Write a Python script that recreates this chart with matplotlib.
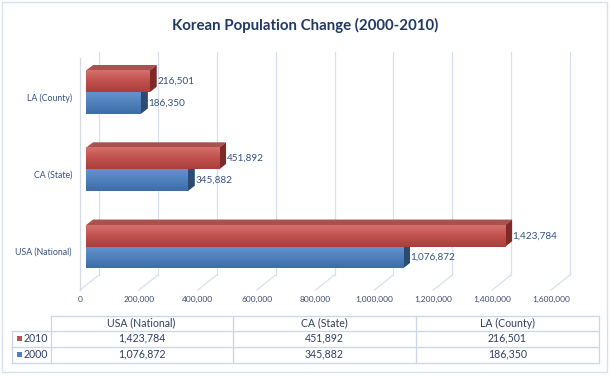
import numpy as np
import matplotlib.pyplot as plt
from matplotlib.colors import LinearSegmentedColormap
from matplotlib.patches import Polygon, Rectangle

# data
categories = ['USA (National)', 'CA (State)', 'LA (County)']
pop_2010 = [1423784, 451892, 216501]
pop_2000 = [1076872, 345882, 186350]
series_names = ['2010', '2000']
x_ticks = [0, 200000, 400000, 600000, 800000, 1000000, 1200000, 1400000, 1600000]

plt.rcParams['font.family'] = ['Lato', 'DejaVu Sans']

W, H = 610, 376
fig = plt.figure(figsize=(6.1, 3.76), dpi=100)


def fx(px):
    return px / W


def fy(py):
    return 1 - py / H


ax = fig.add_axes([fx(80), fy(290), fx(551) - fx(80), fy(52) - fy(290)])
xmax = x_ticks[-1]
ymin, ymax = -0.5, 2.58
sx = xmax / 471.0
sy = (ymax - ymin) / 238.0

floor_dx, floor_dy = 19, 15
off_dx, off_dy = 6, 4.6
dep_dx, dep_dy = 7, 5.5
bar_h = 21.7 * sy

text_c = '#34507f'
grid_c = '#d5e1f1'

# walls / gridlines
for t in x_ticks:
    ax.plot([t, t + floor_dx * sx], [ymin, ymin + floor_dy * sy], color=grid_c, lw=0.9, clip_on=False, zorder=0)
    ax.plot([t + floor_dx * sx] * 2, [ymin + floor_dy * sy, ymax], color=grid_c, lw=0.9, clip_on=False, zorder=0)
ax.plot([0, 0], [ymin, ymin + 232 * sy], color='#d3dae6', lw=0.9, clip_on=False, zorder=0)

grad = np.linspace(0, 1, 64).reshape(-1, 1)


def draw_bar(val, ybase, cols, z):
    light, mid, dark, top_c, side_c = cols
    x0 = off_dx * sx
    yb = ybase + off_dy * sy
    x1 = x0 + val
    ddx, ddy = dep_dx * sx, dep_dy * sy
    yt = yb + bar_h
    ax.add_patch(Polygon([(x0, yt), (x1, yt), (x1 + ddx, yt + ddy), (x0 + ddx, yt + ddy)],
                         closed=True, facecolor=top_c, lw=0, zorder=z))
    ax.add_patch(Polygon([(x1, yb), (x1 + ddx, yb + ddy), (x1 + ddx, yt + ddy), (x1, yt)],
                         closed=True, facecolor=side_c, lw=0, zorder=z))
    cmap = LinearSegmentedColormap.from_list('g', [light, mid, dark])
    ax.imshow(grad, extent=[x0, x1, yb, yt], cmap=cmap, aspect='auto',
              interpolation='bilinear', zorder=z + 0.1)
    ax.text(x1 + ddx + 0.5 * sx, yb + bar_h / 2, f'{val:,}', ha='left', va='center',
            fontsize=7.2, color=text_c, zorder=z + 1)


red = ['#d6706c', '#c0504d', '#a83f3c', '#a8524f', '#7d2a28']
blue = ['#6592cc', '#4f81bd', '#3d6ca6', '#5a7fb0', '#2b4b73']

for i in range(len(categories)):
    draw_bar(pop_2000[i], i - bar_h, blue, 2)
    draw_bar(pop_2010[i], i, red, 3)

ax.set_xlim(0, xmax)
ax.set_ylim(ymin, ymax)
ax.set_xticks(x_ticks)
ax.set_xticklabels([f'{t:,}' for t in x_ticks])
ax.set_yticks(range(len(categories)))
ax.set_yticklabels(categories)
ax.tick_params(axis='x', length=0, pad=4, labelsize=6, labelcolor='#3b4b6b')
ax.tick_params(axis='y', length=0, pad=5.8, labelsize=6.3, labelcolor=text_c)
for s in ax.spines.values():
    s.set_visible(False)
ax.patch.set_alpha(0)

# title
fig.text(0.5, fy(25), 'Korean Population Change (2000-2010)', ha='center', va='center',
         fontsize=10.8, fontweight='bold', color='#1f3864')

# data table and border, in pixel coordinates
tab = fig.add_axes([0, 0, 1, 1])
tab.set_xlim(0, W)
tab.set_ylim(H, 0)
tab.axis('off')
tab.patch.set_alpha(0)
tab.add_patch(Rectangle((1.5, 1.5), 605, 370, fill=False, edgecolor='#d6e0ee', lw=1))

col_x = [12, 50.5, 232.5, 415.5, 599]
row_y = [316, 330.5, 346.5, 362.5]
line_c = '#c9d6e8'
tab.plot([col_x[1], col_x[-1]], [row_y[0]] * 2, color=line_c, lw=0.9)
for yy in row_y[1:]:
    tab.plot([col_x[0], col_x[-1]], [yy] * 2, color=line_c, lw=0.9)
tab.plot([col_x[0]] * 2, [row_y[1], row_y[-1]], color=line_c, lw=0.9)
for xx in col_x[1:]:
    tab.plot([xx] * 2, [row_y[0], row_y[-1]], color=line_c, lw=0.9)

for j, name in enumerate(categories):
    cx = (col_x[j + 1] + col_x[j + 2]) / 2
    tab.text(cx, 323, name, ha='center', va='center', fontsize=7.6, color='#2f3f5f')
rows = [(series_names[0], pop_2010, '#c0504d'), (series_names[1], pop_2000, '#4f81bd')]
for r, (name, vals, c) in enumerate(rows):
    yy = [338, 354][r]
    tab.add_patch(Rectangle((16.5, yy - 2.5), 5, 5, facecolor=c, lw=0))
    tab.text(23.5, yy, name, ha='left', va='center', fontsize=7.6, color='#2f3f5f')
    for j, v in enumerate(vals):
        cx = (col_x[j + 1] + col_x[j + 2]) / 2
        tab.text(cx, yy, f'{v:,}', ha='center', va='center', fontsize=7.6, color='#2f3f5f')

fig.savefig('out.png', dpi=100, facecolor='white')
